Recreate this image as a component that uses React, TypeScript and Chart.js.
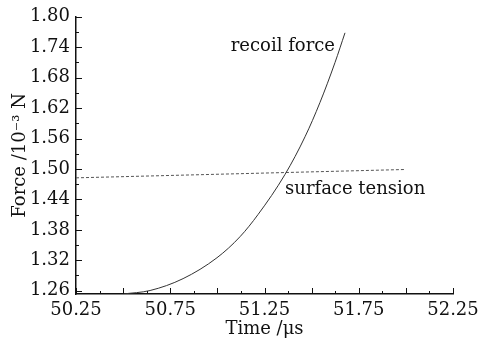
import React, { useEffect, useRef } from "react";
import { Chart, registerables } from "chart.js";

Chart.register(...registerables);

const recoilTime = [50.499, 50.643, 50.818, 50.998, 51.12, 51.216, 51.359, 51.465, 51.544, 51.624, 51.677];
const recoilForce = [1.2535, 1.2604, 1.2838, 1.325, 1.3664, 1.4103, 1.4893, 1.5635, 1.6308, 1.7098, 1.7684];
const tensionTime = [50.25, 52.0];
const tensionForce = [1.4825, 1.499];

const xMajorLabels = [50.25, 50.75, 51.25, 51.75, 52.25];
const yMajorLabels = [1.26, 1.32, 1.38, 1.44, 1.5, 1.56, 1.62, 1.68, 1.74, 1.8];

const X_MIN = 50.25, X_MAX = 52.25, Y_MIN = 1.2535, Y_MAX = 1.8;
const FONT = "'DejaVu Serif', serif";
const FS = 18;

const tickPlugin = {
  id: "inwardTicks",
  afterDraw(chart: any) {
    const ctx = chart.ctx;
    const xs = chart.scales.x;
    const ys = chart.scales.y;
    const area = chart.chartArea;
    ctx.save();
    ctx.strokeStyle = "#111";
    ctx.lineWidth = 1;
    for (let i = 0; i <= 16; i++) {
      const v = X_MIN + i * 0.125;
      const px = Math.round(xs.getPixelForValue(v)) + 0.5;
      const len = i % 2 === 0 ? 6 : 3;
      ctx.beginPath();
      ctx.moveTo(px, area.bottom);
      ctx.lineTo(px, area.bottom - len);
      ctx.stroke();
    }
    for (let i = 0; i <= 18; i++) {
      const v = 1.26 + i * 0.03;
      if (v > Y_MAX + 1e-9) break;
      const py = Math.round(ys.getPixelForValue(v)) + 0.5;
      const len = i % 2 === 0 ? 6 : 3;
      ctx.beginPath();
      ctx.moveTo(area.left, py);
      ctx.lineTo(area.left + len, py);
      ctx.stroke();
    }
    ctx.fillStyle = "#111";
    ctx.font = FS + "px " + FONT;
    ctx.textBaseline = "middle";
    ctx.textAlign = "right";
    ctx.fillText("recoil force", xs.getPixelForValue(51.624), ys.getPixelForValue(1.7415));
    ctx.textAlign = "left";
    ctx.fillText("surface tension", xs.getPixelForValue(51.359), ys.getPixelForValue(1.4604));
    ctx.restore();
  },
};

export default function App() {
  const ref = useRef<HTMLCanvasElement>(null);
  useEffect(() => {
    if (!ref.current) return;
    const chart = new Chart(ref.current, {
      type: "line",
      data: {
        datasets: [
          {
            label: "recoil force",
            data: recoilTime.map((t, i) => ({ x: t, y: recoilForce[i] })),
            borderColor: "#333",
            borderWidth: 1,
            pointRadius: 0,
            cubicInterpolationMode: "monotone",
            fill: false,
          },
          {
            label: "surface tension",
            data: tensionTime.map((t, i) => ({ x: t, y: tensionForce[i] })),
            borderColor: "#555",
            borderWidth: 1,
            borderDash: [3, 2],
            pointRadius: 0,
            fill: false,
          },
        ],
      },
      options: {
        responsive: false,
        animation: false,
        events: [],
        layout: { padding: { top: 14, right: 43, left: 0, bottom: 0 } },
        plugins: { legend: { display: false }, tooltip: { enabled: false } },
        scales: {
          x: {
            type: "linear",
            min: X_MIN,
            max: X_MAX,
            afterBuildTicks: (s: any) => {
              s.ticks = xMajorLabels.map((v) => ({ value: v }));
            },
            afterFit: (s: any) => {
              s.height = 52;
            },
            grid: { display: false, drawTicks: false, tickLength: 0 },
            border: { display: true, color: "#111", width: 1.5 },
            ticks: {
              color: "#111",
              font: { family: FONT, size: FS },
              padding: 6,
              maxRotation: 0,
              callback: (v: any) => Number(v).toFixed(2),
            },
            title: {
              display: true,
              text: "Time /μs",
              color: "#111",
              font: { family: FONT, size: FS },
              padding: { top: 0, bottom: 6 },
            },
          },
          y: {
            type: "linear",
            min: Y_MIN,
            max: Y_MAX,
            afterBuildTicks: (s: any) => {
              s.ticks = yMajorLabels.map((v) => ({ value: v }));
            },
            afterFit: (s: any) => {
              s.width = 76;
            },
            grid: { display: false, drawTicks: false, tickLength: 0 },
            border: { display: true, color: "#111", width: 1.5 },
            ticks: {
              color: "#111",
              font: { family: FONT, size: FS },
              padding: 6,
              callback: (v: any) => Number(v).toFixed(2),
            },
            title: {
              display: true,
              text: "Force /10⁻³ N",
              color: "#111",
              font: { family: FONT, size: FS },
              padding: { top: 10, bottom: 0 },
            },
          },
        },
      },
      plugins: [tickPlugin],
    } as any);
    return () => chart.destroy();
  }, []);
  return (
    <div style={{ position: "fixed", left: 0, top: 0, width: 496, height: 346, background: "#fff" }}>
      <canvas ref={ref} width={496} height={346} style={{ display: "block" }} />
    </div>
  );
}
